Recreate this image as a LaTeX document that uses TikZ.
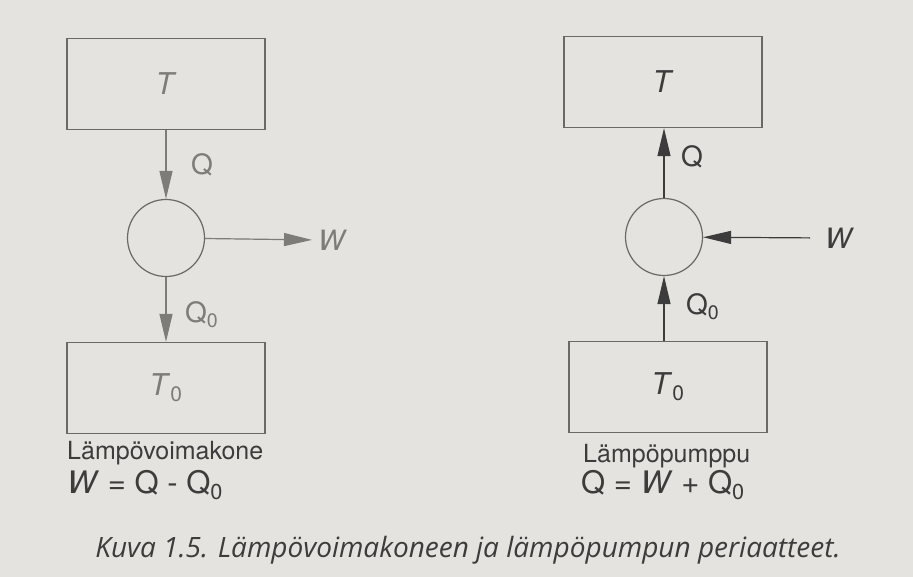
\documentclass[tikz,border=0pt]{standalone}
\usepackage{fontspec}
\setmainfont{TeX Gyre Heros}
\newfontfamily\capfont{Open Sans}
\usetikzlibrary{positioning,arrows.meta,shapes.geometric}
\definecolor{paper}{RGB}{228,227,223}
\definecolor{frame}{RGB}{105,105,103}
\definecolor{pale}{RGB}{125,124,120}
\definecolor{dark}{RGB}{60,60,60}

\begin{document}
\begin{tikzpicture}[x=1pt, y=-1pt,
    box/.style={draw=frame, line width=1.3pt, minimum width=198pt, minimum height=91pt, inner sep=0pt, font=\fontsize{30}{32}\selectfont},
    wheel/.style={draw=frame, line width=1.2pt, circle, minimum size=77pt, inner sep=0pt},
    flow/.style={-{Triangle[length=28pt, width=13pt]}, line width=1.2pt},
    lbl/.style={font=\fontsize{28}{30}\selectfont, inner sep=0pt, anchor=west},
    machname/.style={font=\fontsize{25}{27}\selectfont, inner sep=0pt, anchor=base west},
    formula/.style={font=\fontsize{31}{33}\selectfont, inner sep=0pt, anchor=base west}
]
    % Paper
    \fill[paper] (0,0) rectangle (913,577);

    % Heat engine
    \node[box, text=pale] (hotL) at (166,84) {\textit{T}};
    \node[wheel] (engine) at (166,238) {};
    \node[box, text=pale] (coldL) at (166,388) {\textit{T}\textsubscript{0}};
    \node[lbl, text=pale] (qL) at (191,165) {Q};
    \node[lbl, text=pale] (q0L) at (185,315) {Q\textsubscript{0}};
    \node[lbl, text=pale] (wL) at (318,240) {\textit{W}};
    \node[machname, text=dark] (engname) at (67,459) {Lämpövoimakone};
    \node[formula, text=dark] (engeq) at (67,493) {\textit{W} = Q - Q\textsubscript{0}};

    % Heat pump
    \node[box, text=dark] (hotR) at (663,82) {\textit{T}};
    \node[wheel] (pump) at (664,237) {};
    \node[box, text=dark] (coldR) at (668,387) {\textit{T}\textsubscript{0}};
    \node[lbl, text=dark] (qR) at (681,157) {Q};
    \node[lbl, text=dark] (q0R) at (686,307) {Q\textsubscript{0}};
    \node[lbl, text=dark] (wR) at (825,238) {\textit{W}};
    \node[machname, text=dark] (pumpname) at (583,462) {Lämpöpumppu};
    \node[formula, text=dark] (pumpeq) at (581,493) {Q = \textit{W} + Q\textsubscript{0}};

    % Caption
    \node[font=\capfont\itshape\fontsize{28}{30}\selectfont, text=dark, anchor=base] (caption) at (468,557) {Kuva 1.5. Lämpövoimakoneen ja lämpöpumpun periaatteet.};

    % Arrows
    \draw[flow, draw=pale, fill=pale] (hotL) -- (engine);
    \draw[flow, draw=pale, fill=pale] (engine) -- (coldL);
    \draw[flow, draw=pale, fill=pale, shorten >=6pt] (engine) -- (wL.west);
    \draw[flow, draw=dark, fill=dark] (pump) -- (hotR.south -| pump);
    \draw[flow, draw=dark, fill=dark] (coldR.north -| pump) -- (pump);
    \draw[flow, draw=dark, fill=dark, shorten <=15pt] (wR.west) -- (pump);
\end{tikzpicture}
\end{document}
